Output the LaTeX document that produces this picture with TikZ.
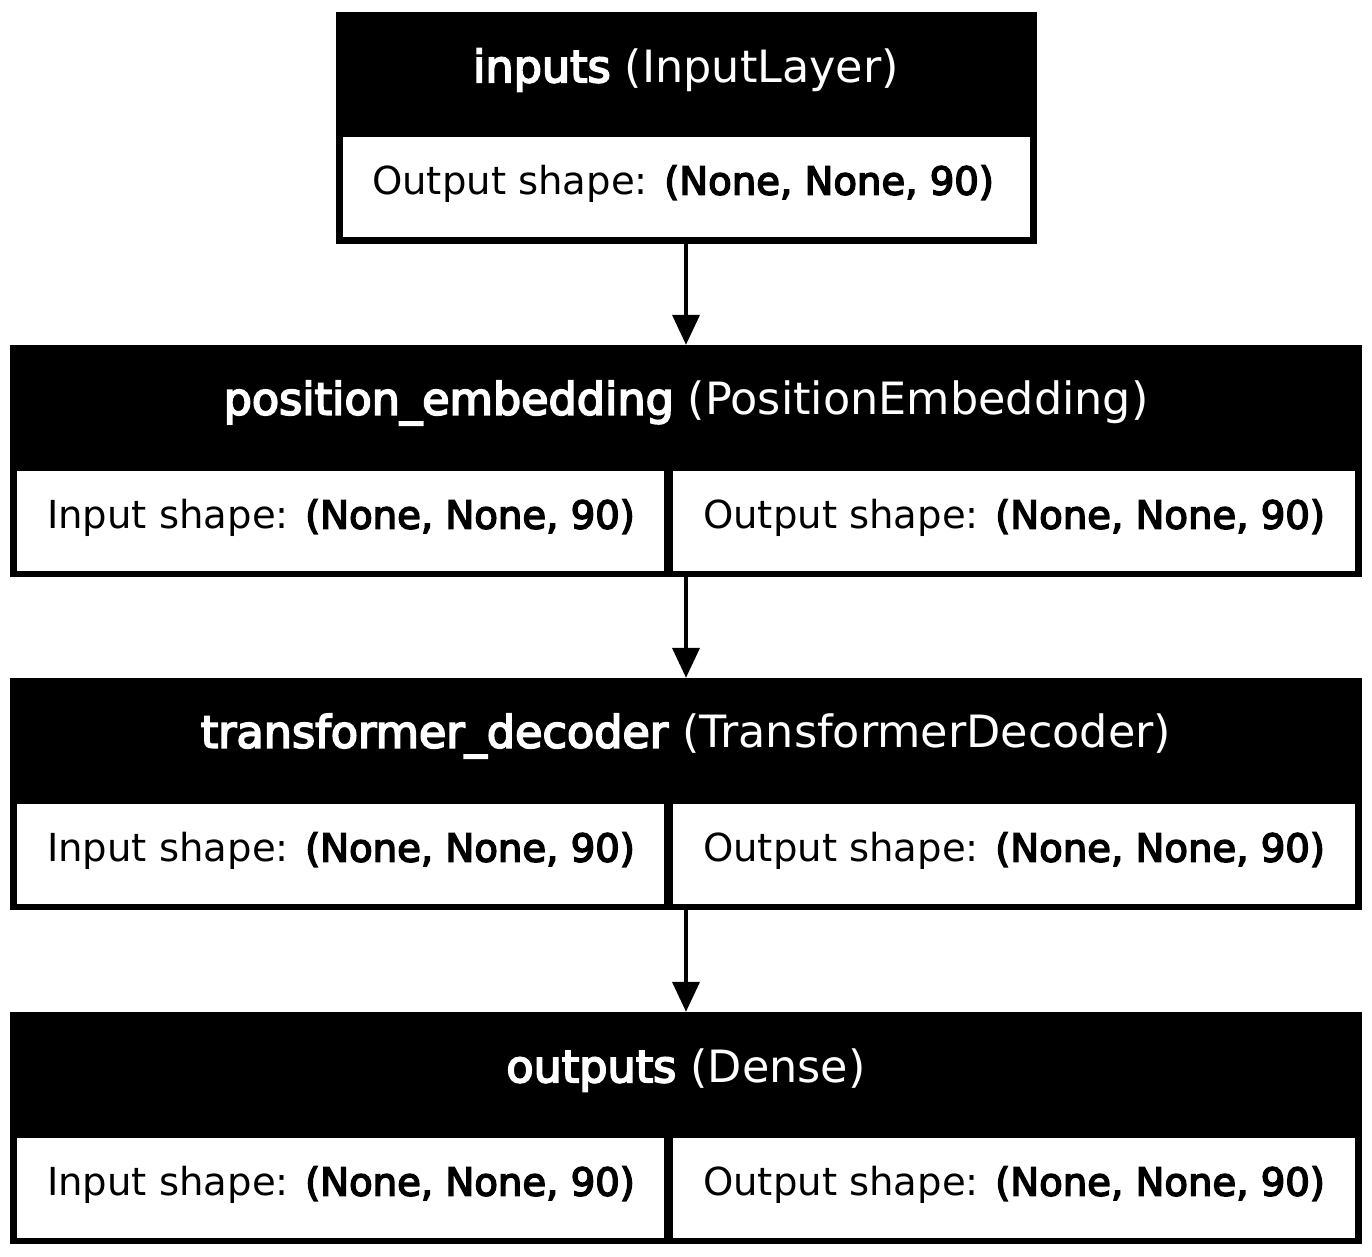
\documentclass[tikz,border=0pt]{standalone}
\usepackage{fontspec}
\setmainfont{DejaVu Sans}[BoldFont={DejaVu Sans},BoldFeatures={FakeBold=4}]
\usetikzlibrary{arrows.meta,positioning}

\begin{document}
\begin{tikzpicture}[
  x=1pt,y=-1pt,
  font=\fontsize{38.6}{46}\selectfont,
  layerbox/.style={fill=black,draw=none,inner sep=0pt,
                   minimum width=#1,minimum height=232pt},
  shapebox/.style={fill=white,draw=none,inner sep=0pt,
                   minimum width=#1,minimum height=100pt},
  title/.style={text=white,inner sep=0pt,font=\fontsize{44.5}{52}\selectfont},
  shapetxt/.style={text=black,inner sep=0pt},
  arr/.style={-{Triangle[length=30pt,width=27pt]},line width=4pt},
]
  \useasboundingbox (0,0) rectangle (1372,1256);

  % inputs
  \node[layerbox=701pt] (l1) at (686,127.5) {};
  \node[title] (t1) at (686,70) {\textbf{inputs} (InputLayer)};
  \node[shapebox=687pt] (o1) at (686,187) {};
  \node[shapetxt] at (683,184) {Output shape: \textbf{(None, None, 90)}};

  % position_embedding
  \node[layerbox=1352pt] (l2) at (686,461) {};
  \node[title] (t2) at (686,403) {\textbf{position\_embedding} (PositionEmbedding)};
  \node[shapebox=647pt] (i2) at (340.5,521) {};
  \node[shapebox=682pt] (o2) at (1014,521) {};
  \node[shapetxt] at (341,518) {Input shape: \textbf{(None, None, 90)}};
  \node[shapetxt] at (1014,518) {Output shape: \textbf{(None, None, 90)}};

  % transformer_decoder
  \node[layerbox=1352pt] (l3) at (686,794) {};
  \node[title] (t3) at (686,736) {\textbf{transformer\_decoder} (TransformerDecoder)};
  \node[shapebox=647pt] (i3) at (340.5,854) {};
  \node[shapebox=682pt] (o3) at (1014,854) {};
  \node[shapetxt] at (341,851) {Input shape: \textbf{(None, None, 90)}};
  \node[shapetxt] at (1014,851) {Output shape: \textbf{(None, None, 90)}};

  % outputs
  \node[layerbox=1352pt] (l4) at (686,1128) {};
  \node[title] (t4) at (686,1070) {\textbf{outputs} (Dense)};
  \node[shapebox=647pt] (i4) at (340.5,1188) {};
  \node[shapebox=682pt] (o4) at (1014,1188) {};
  \node[shapetxt] at (341,1185) {Input shape: \textbf{(None, None, 90)}};
  \node[shapetxt] at (1014,1185) {Output shape: \textbf{(None, None, 90)}};

  \draw[arr] (l1) -- (l2);
  \draw[arr] (l2) -- (l3);
  \draw[arr] (l3) -- (l4);
\end{tikzpicture}
\end{document}
